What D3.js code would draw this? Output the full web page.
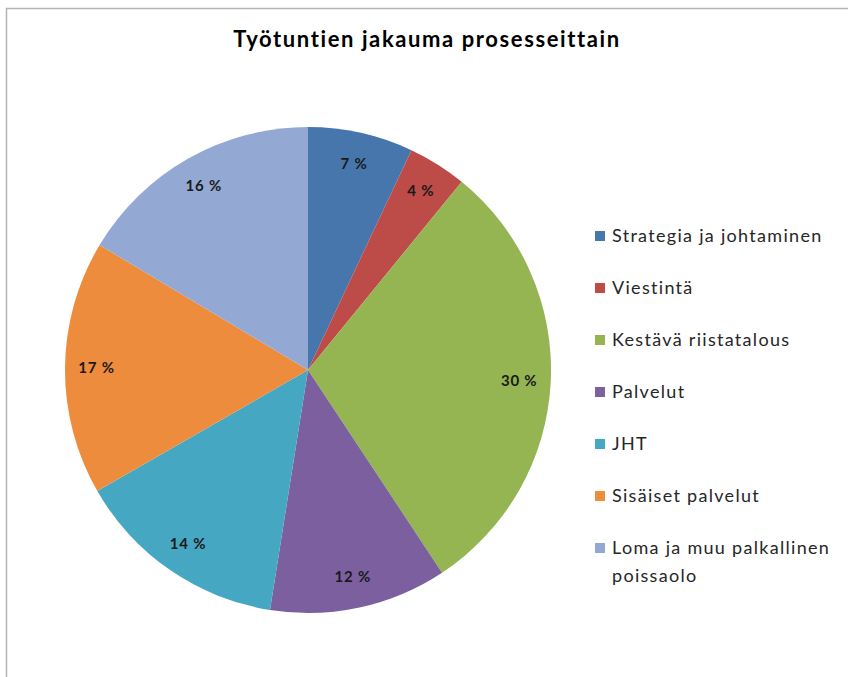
<!DOCTYPE html>
<html>
<head>
<meta charset="utf-8">
<script src="https://cdn.jsdelivr.net/npm/d3@7"></script>
<style>
  body { margin: 0; background: #fff; }
  svg text { font-family: Lato, "Open Sans", sans-serif; }
</style>
</head>
<body>
<div id="chart"></div>
<script>
// Data (share of working hours, %)
var categories = ['Strategia ja johtaminen', 'Viestintä', 'Kestävä riistatalous', 'Palvelut',
                  'JHT', 'Sisäiset palvelut', 'Loma ja muu palkallinen poissaolo'];
var shares = [7.0, 3.9, 29.8, 11.8, 14.2, 16.9, 16.4];
var legendLines = [['Strategia ja johtaminen'], ['Viestintä'], ['Kestävä riistatalous'], ['Palvelut'],
                   ['JHT'], ['Sisäiset palvelut'], ['Loma ja muu palkallinen', 'poissaolo']];
var palette = ['#4776ad', '#bd4b48', '#95b552', '#7c5f9e', '#45a7c2', '#ee8c3e', '#93a9d3'];

var width = 848, height = 677;
var cx = 308, cy = 370, radius = 243;

var svg = d3.select('#chart').append('svg')
    .attr('width', width)
    .attr('height', height);

// frame (top + left edge visible)
svg.append('path')
    .attr('d', 'M6.5,' + height + 'V8.5H' + width)
    .attr('fill', 'none')
    .attr('stroke', '#b4b4b4')
    .attr('stroke-width', 1.5);

svg.append('text')
    .attr('x', 427)
    .attr('y', 47)
    .attr('text-anchor', 'middle')
    .style('font-size', '22px')
    .style('font-weight', 'bold')
    .style('letter-spacing', '1.6px')
    .attr('fill', '#000')
    .text('Työtuntien jakauma prosesseittain');

var color = d3.scaleOrdinal().domain(categories).range(palette);

var pie = d3.pie().sort(null).value(function(d) { return d.value; });
var data = categories.map(function(c, i) { return { name: c, value: shares[i] }; });
var arcs = pie(data);

var arc = d3.arc().innerRadius(0).outerRadius(radius);
var labelArc = d3.arc().innerRadius(radius * 0.87).outerRadius(radius * 0.87);

var root = svg.append('g').attr('transform', 'translate(' + [cx, cy] + ')');

root.selectAll('path.slice')
    .data(arcs)
    .enter().append('path')
    .classed('slice', true)
    .attr('d', arc)
    .attr('fill', function(d) { return color(d.data.name); });

root.selectAll('text.label')
    .data(arcs)
    .enter().append('text')
    .classed('label', true)
    .attr('transform', function(d) { return 'translate(' + labelArc.centroid(d) + ')'; })
    .attr('text-anchor', 'middle')
    .attr('dy', '0.35em')
    .style('font-size', '15px')
    .style('font-weight', 'bold')
    .style('letter-spacing', '0.8px')
    .attr('fill', '#1a1a1a')
    .text(function(d) { return Math.round(d.data.value) + ' %'; });

// Legend
var legend = svg.append('g').attr('transform', 'translate(595,236)');
var rows = legend.selectAll('g.row')
    .data(categories)
    .enter().append('g')
    .classed('row', true)
    .attr('transform', function(d, i) { return 'translate(0,' + (i * 52) + ')'; });

rows.append('rect')
    .attr('x', 0)
    .attr('y', -5)
    .attr('width', 10)
    .attr('height', 10)
    .attr('fill', function(d) { return color(d); });

rows.append('text')
    .attr('x', 17)
    .style('font-size', '18px')
    .style('letter-spacing', '1.3px')
    .attr('fill', '#262626')
    .each(function(d, i) {
        var t = d3.select(this);
        legendLines[i].forEach(function(line, j) {
            t.append('tspan')
                .attr('x', 17)
                .attr('dy', j === 0 ? '0.35em' : '1.55em')
                .text(line);
        });
    });
</script>
</body>
</html>
